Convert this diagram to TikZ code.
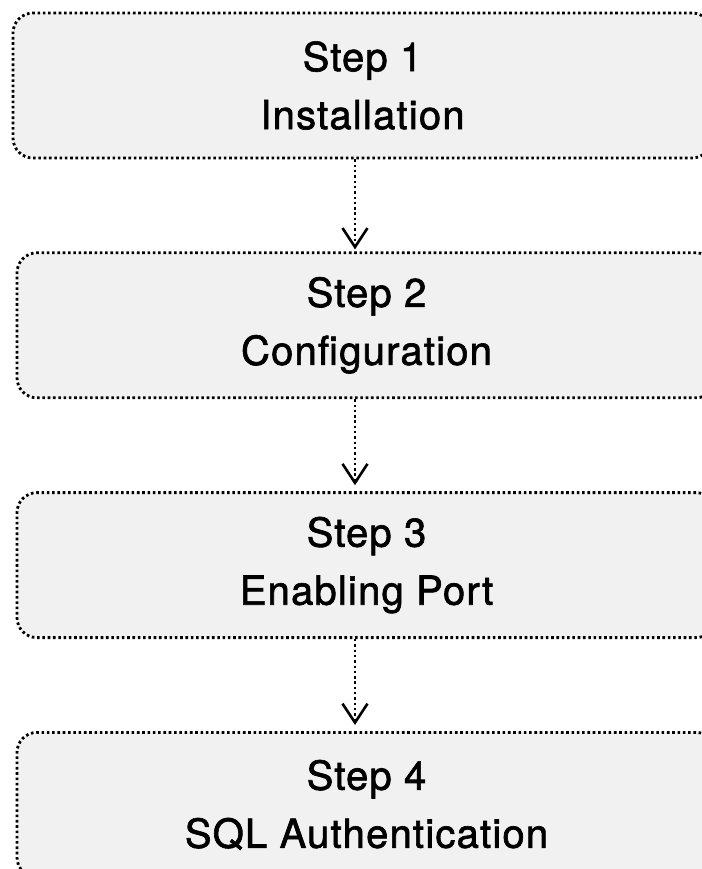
\documentclass[tikz,border=0pt]{standalone}
\usepackage{fontspec}
\setmainfont[LetterSpace=3,FakeBold=1.6]{TeX Gyre Heros}
\usepackage{tikz}
\usetikzlibrary{arrows.meta,positioning,calc}
\definecolor{boxgray}{HTML}{F1F1F1}
\tikzstyle{stepbox}=[draw,fill=boxgray,rounded corners=10pt,line width=1.4pt,dash pattern=on 1.3pt off 1.35pt,minimum width=349.5pt,minimum height=72.5pt,align=center,font=\fontsize{20pt}{29pt}\selectfont,inner sep=0pt]
\tikzstyle{flow}=[line width=1.3pt,dash pattern=on 1.2pt off 1.45pt,-{Straight Barb[length=9.5pt,width=12.5pt,line width=1.3pt]}]

\begin{document}
\begin{tikzpicture}[node distance=46pt]
\useasboundingbox (0,0) rectangle (351pt,-434.5pt);
\clip (0,0) rectangle (351pt,-434.5pt);
\node [stepbox] (s1) at (181.25pt,-42.75pt) {Step 1\\Installation};
\node [stepbox,below=of s1,xshift=2pt] (s2) {Step 2\\Configuration};
\node [stepbox,below=of s2] (s3) {Step 3\\Enabling Port};
\node [stepbox,below=of s3] (s4) {Step 4\\SQL Authentication};
% arrows between steps
\draw [flow] ([xshift=-3.75pt]s1.south) -- ([xshift=-5.75pt,yshift=1pt]s2.north);
\draw [flow] ([xshift=-5.75pt]s2.south) -- ([xshift=-5.75pt,yshift=3pt]s3.north);
\draw [flow] ([xshift=-5.75pt]s3.south) -- ([xshift=-5.75pt,yshift=3pt]s4.north);
\end{tikzpicture}
\end{document}
